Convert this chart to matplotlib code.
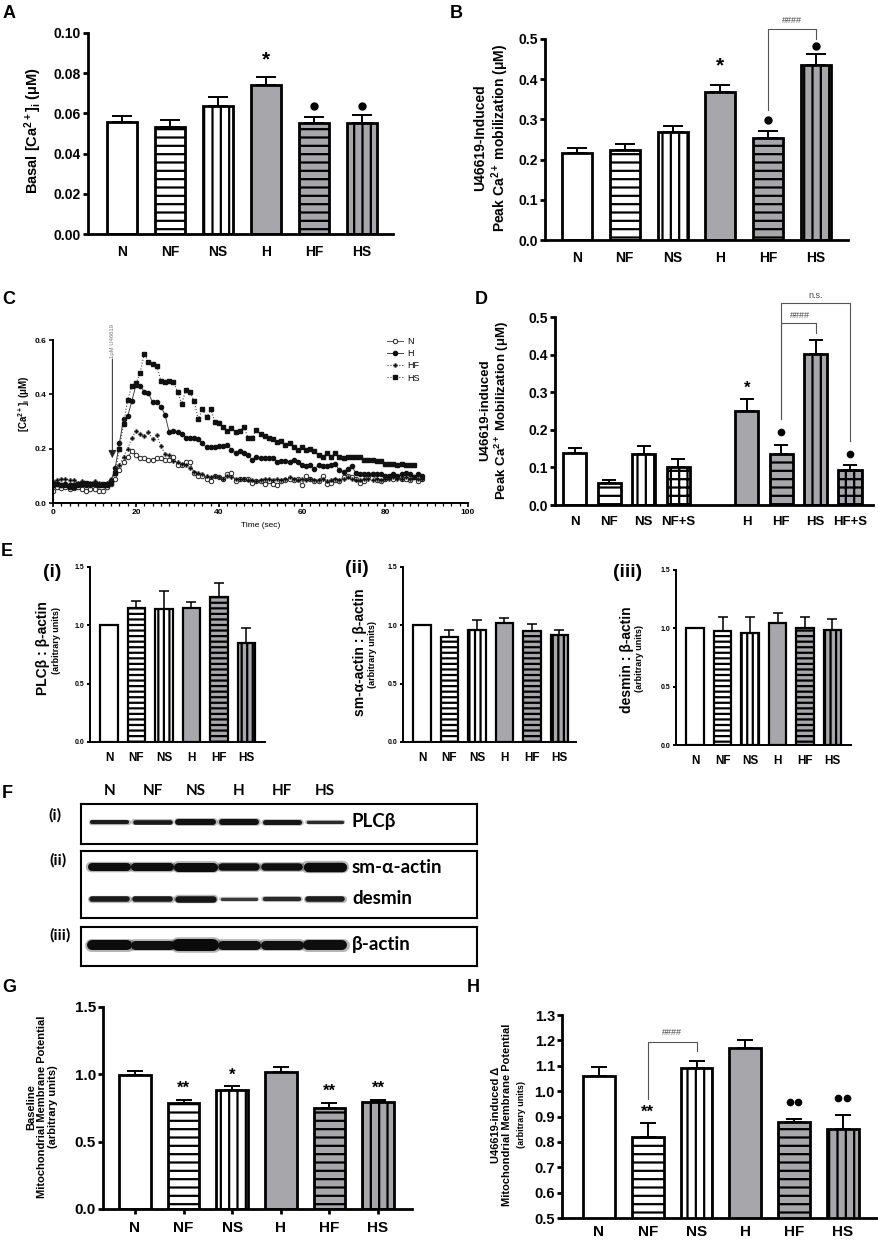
import numpy as np
import matplotlib
matplotlib.use('Agg')
from matplotlib import pyplot as plt
from matplotlib.ticker import MultipleLocator, FormatStrFormatter

W, H = 879, 1241

plt.rcParams['font.family'] = ['Liberation Sans', 'DejaVu Sans']
plt.rcParams['font.weight'] = 'bold'
plt.rcParams['mathtext.fontset'] = 'custom'
plt.rcParams['mathtext.rm'] = 'Liberation Sans:bold'
plt.rcParams['mathtext.it'] = 'Liberation Sans:bold'
plt.rcParams['mathtext.bf'] = 'Liberation Sans:bold'
plt.rcParams['hatch.linewidth'] = 1.6
plt.rcParams['hatch.color'] = 'black'

GRAY = '#a6a6ab'

# ---------------- data ----------------
GROUPS = ['N', 'NF', 'NS', 'H', 'HF', 'HS']

A_VALS = [0.0557, 0.0531, 0.0638, 0.0743, 0.0552, 0.0554]
A_ERRS = [0.0028, 0.0035, 0.0044, 0.0038, 0.0032, 0.0036]

B_VALS = [0.217, 0.224, 0.268, 0.367, 0.253, 0.435]
B_ERRS = [0.012, 0.015, 0.016, 0.019, 0.017, 0.027]

D_GROUPS = ['N', 'NF', 'NS', 'NF+S', 'H', 'HF', 'HS', 'HF+S']
D_POS = [0, 1, 2, 3, 5, 6, 7, 8]
D_VALS = [0.138, 0.059, 0.136, 0.102, 0.251, 0.136, 0.402, 0.092]
D_ERRS = [0.013, 0.007, 0.022, 0.021, 0.031, 0.024, 0.038, 0.014]

E1_VALS = [1.0, 1.146, 1.14, 1.151, 1.243, 0.851]
E1_ERRS = [0, 0.065, 0.157, 0.049, 0.12, 0.123]
E2_VALS = [1.0, 0.899, 0.962, 1.023, 0.948, 0.916]
E2_ERRS = [0, 0.063, 0.087, 0.041, 0.064, 0.044]
E3_VALS = [1.0, 0.977, 0.96, 1.045, 1.006, 0.983]
E3_ERRS = [0, 0.117, 0.134, 0.085, 0.088, 0.097]

G_VALS = [0.998, 0.787, 0.886, 1.017, 0.752, 0.792]
G_ERRS = [0.024, 0.024, 0.025, 0.035, 0.032, 0.019]

H_VALS = [1.06, 0.821, 1.09, 1.171, 0.879, 0.85]
H_ERRS = [0.037, 0.053, 0.03, 0.029, 0.012, 0.054]

# time course (panel C), one reading per second
C_TIME = np.arange(90)
C_N = [0.045, 0.060, 0.055, 0.060, 0.050, 0.055, 0.060, 0.050, 0.045, 0.050,
       0.050, 0.045, 0.045, 0.060, 0.070, 0.090, 0.120, 0.150, 0.170, 0.190,
       0.175, 0.165, 0.165, 0.160, 0.160, 0.165, 0.165, 0.160, 0.160, 0.170,
       0.140, 0.140, 0.150, 0.150, 0.110, 0.100, 0.100, 0.090, 0.080, 0.100,
       0.095, 0.090, 0.105, 0.110, 0.080, 0.090, 0.090, 0.090, 0.075, 0.080,
       0.080, 0.070, 0.080, 0.070, 0.065, 0.080, 0.085, 0.090, 0.085, 0.090,
       0.065, 0.100, 0.090, 0.080, 0.080, 0.100, 0.070, 0.075, 0.085, 0.080,
       0.095, 0.100, 0.095, 0.090, 0.075, 0.080, 0.100, 0.105, 0.085, 0.080,
       0.090, 0.095, 0.090, 0.095, 0.090, 0.090, 0.085, 0.095, 0.080, 0.090]
C_H = [0.065, 0.070, 0.065, 0.070, 0.065, 0.060, 0.065, 0.070, 0.065, 0.065,
       0.070, 0.065, 0.065, 0.070, 0.080, 0.130, 0.220, 0.310, 0.320, 0.375,
       0.435, 0.430, 0.410, 0.405, 0.370, 0.370, 0.355, 0.325, 0.260, 0.265,
       0.260, 0.255, 0.240, 0.240, 0.240, 0.235, 0.220, 0.205, 0.205, 0.205,
       0.210, 0.210, 0.215, 0.195, 0.185, 0.190, 0.185, 0.175, 0.160, 0.170,
       0.165, 0.165, 0.165, 0.165, 0.150, 0.155, 0.155, 0.150, 0.160, 0.150,
       0.140, 0.135, 0.140, 0.125, 0.140, 0.135, 0.135, 0.140, 0.145, 0.120,
       0.115, 0.125, 0.135, 0.110, 0.105, 0.105, 0.105, 0.105, 0.105, 0.105,
       0.100, 0.100, 0.105, 0.100, 0.105, 0.110, 0.105, 0.095, 0.105, 0.100]
C_HF = [0.080, 0.085, 0.090, 0.090, 0.085, 0.085, 0.075, 0.080, 0.075, 0.075,
        0.080, 0.075, 0.070, 0.075, 0.090, 0.110, 0.140, 0.170, 0.200, 0.240,
        0.265, 0.255, 0.245, 0.260, 0.235, 0.250, 0.210, 0.180, 0.175, 0.155,
        0.150, 0.145, 0.140, 0.130, 0.115, 0.110, 0.105, 0.100, 0.095, 0.100,
        0.095, 0.090, 0.100, 0.095, 0.090, 0.090, 0.090, 0.085, 0.085, 0.080,
        0.085, 0.090, 0.090, 0.085, 0.090, 0.085, 0.090, 0.095, 0.090, 0.085,
        0.090, 0.085, 0.090, 0.085, 0.085, 0.090, 0.080, 0.085, 0.090, 0.085,
        0.090, 0.095, 0.090, 0.085, 0.085, 0.090, 0.090, 0.085, 0.090, 0.085,
        0.090, 0.090, 0.095, 0.090, 0.090, 0.095, 0.090, 0.095, 0.090, 0.090]
C_HS = [0.070, 0.070, 0.065, 0.065, 0.060, 0.065, 0.070, 0.070, 0.075, 0.070,
        0.070, 0.065, 0.070, 0.065, 0.075, 0.110, 0.200, 0.290, 0.380, 0.430,
        0.440, 0.480, 0.550, 0.520, 0.510, 0.505, 0.450, 0.445, 0.450, 0.445,
        0.410, 0.365, 0.415, 0.410, 0.375, 0.310, 0.345, 0.315, 0.345, 0.300,
        0.295, 0.280, 0.265, 0.275, 0.260, 0.265, 0.280, 0.240, 0.240, 0.270,
        0.255, 0.245, 0.240, 0.235, 0.225, 0.230, 0.215, 0.220, 0.205, 0.195,
        0.205, 0.195, 0.200, 0.190, 0.175, 0.170, 0.185, 0.170, 0.185, 0.170,
        0.165, 0.170, 0.170, 0.170, 0.170, 0.160, 0.160, 0.160, 0.155, 0.155,
        0.145, 0.145, 0.145, 0.140, 0.145, 0.140, 0.140, 0.140]

# western blot (panel F): band thickness (pt) and darkness per lane
BLOT_LANES = ['N', 'NF', 'NS', 'H', 'HF', 'HS']
BAND_PLCB = [3.0, 3.3, 4.3, 4.3, 3.6, 2.4]
BAND_SMA = [5.8, 5.8, 6.5, 5.4, 5.4, 6.8]
BAND_DESMIN = [4.0, 4.0, 4.7, 2.4, 3.1, 4.0]
BAND_BACTIN = [7.2, 6.5, 8.6, 6.5, 6.5, 7.2]
SHADE_PLCB = ['#1c1c1c', '#1a1a1a', '#111111', '#111111', '#161616', '#2a2a2a']
SHADE_SMA = ['#0e0e0e', '#0e0e0e', '#0c0c0c', '#101010', '#101010', '#0c0c0c']
SHADE_DESMIN = ['#1a1a1a', '#1a1a1a', '#151515', '#3a3a3a', '#2a2a2a', '#1d1d1d']
SHADE_BACTIN = ['#0c0c0c', '#101010', '#0a0a0a', '#101010', '#101010', '#0e0e0e']

BAR_STYLE = {'N': ('white', ''), 'NF': ('white', '-'), 'NS': ('white', '|'),
             'H': (GRAY, ''), 'HF': (GRAY, '-'), 'HS': (GRAY, '|'),
             'NF+S': ('white', '+'), 'HF+S': (GRAY, '+')}

fig = plt.figure(figsize=(W / 100, H / 100), dpi=100)
fig.patch.set_facecolor('white')


def add_box(l, t, r, b):
  return fig.add_axes([l / W, 1 - b / H, (r - l) / W, (b - t) / H])


def ftext(x, y, s, **kw):
  kw.setdefault('ha', 'center')
  kw.setdefault('va', 'center')
  fig.text(x / W, 1 - y / H, s, **kw)


def bar_panel(ax, pos, groups, vals, errs, width, lw, capsize, rep=2):
  for p, g, v in zip(pos, groups, vals):
    fc, h = BAR_STYLE[g]
    ax.bar(p, v, width, color=fc, edgecolor='black', hatch=h * rep,
           linewidth=lw, zorder=2)
  ep = [p for p, e in zip(pos, errs) if e > 0]
  ev = [v for v, e in zip(vals, errs) if e > 0]
  ee = [e for e in errs if e > 0]
  ax.errorbar(ep, ev, yerr=[np.zeros(len(ee)), ee], fmt='none', ecolor='black',
              elinewidth=lw * 0.7, capsize=capsize, capthick=lw * 0.7, zorder=1)
  ax.set_xticks(pos)
  ax.set_xticklabels(groups)


def style_ax(ax, lw, ysize, xsize, ylen, xpad, xlen=0):
  ax.spines[['top', 'right']].set_visible(False)
  ax.spines[['left', 'bottom']].set_linewidth(lw)
  ax.tick_params(axis='y', width=lw, length=ylen, labelsize=ysize, pad=1.5)
  ax.tick_params(axis='x', width=lw, length=xlen, labelsize=xsize, pad=xpad)


def bracket(ax, xs, ys, label, ly, lx, size=6.5):
  ax.plot(xs, ys, color='#555555', lw=0.8, clip_on=False)
  ax.text(lx, ly, label, ha='center', va='center', fontsize=size,
          fontweight='normal', color='#444444', clip_on=False)


# ---------------- A ----------------
ax = add_box(88, 33, 393, 234)
bar_panel(ax, range(6), GROUPS, A_VALS, A_ERRS, 0.625, 2.0, 7)
ax.set_xlim(-0.708, 5.646)
ax.set_ylim(0, 0.10)
ax.set_yticks(np.arange(0, 0.101, 0.02))
ax.yaxis.set_major_formatter(FormatStrFormatter('%.2f'))
style_ax(ax, 2.0, 10, 10, 3.6, 8)
ax.text(3, 0.0867, '*', ha='center', va='center', fontsize=15)
ax.plot([4, 5], [0.0635, 0.0638], 'o', color='black', ms=5, clip_on=False)
ftext(33, 131, 'Basal [Ca$^{2+}$]$_\\mathrm{i}$ (μM)', rotation=90, fontsize=10.5)

# ---------------- B ----------------
ax = add_box(545, 39, 848, 240)
bar_panel(ax, range(6), GROUPS, B_VALS, B_ERRS, 0.63, 2.0, 7)
ax.set_xlim(-0.669, 5.669)
ax.set_ylim(0, 0.5)
ax.set_yticks(np.arange(0, 0.51, 0.1))
ax.yaxis.set_major_formatter(FormatStrFormatter('%.1f'))
style_ax(ax, 2.0, 10, 10, 3.6, 8)
ax.text(3, 0.433, '*', ha='center', va='center', fontsize=15)
ax.plot([4, 5], [0.298, 0.483], 'o', color='black', ms=5, clip_on=False)
bracket(ax, [4, 4, 5, 5], [0.323, 0.525, 0.525, 0.50], '####', 0.545, 4.5)
ftext(492, 138, 'U46619-Induced\nPeak Ca$^{2+}$ mobilization (μM)', rotation=90,
      fontsize=10, linespacing=1.15)

# ---------------- C ----------------
ax = add_box(53, 340, 468, 503)
ax.plot(C_TIME, C_N, '-o', color='#555555', lw=0.7, ms=3.2, mfc='white',
        mec='#222222', mew=0.7, label='N')
ax.plot(C_TIME, C_H, '-o', color='#444444', lw=0.7, ms=3.0, mfc='#111111',
        mec='#111111', label='H')
ax.plot(C_TIME, C_HF, ':', marker='P', color='#444444', lw=0.8, ms=3.0,
        mfc='#111111', mec='#111111', mew=0.2, label='HF')
ax.plot(C_TIME[:len(C_HS)], C_HS, ':', marker='s', color='#444444', lw=0.8,
        ms=3.0, mfc='#111111', mec='#111111', label='HS')
ax.set_xlim(0, 100)
ax.set_ylim(0, 0.6)
ax.set_xticks(range(0, 101, 20))
ax.xaxis.set_minor_locator(MultipleLocator(2))
ax.set_yticks([0, 0.2, 0.4, 0.6])
ax.yaxis.set_major_formatter(FormatStrFormatter('%.1f'))
ax.spines[['top', 'right']].set_visible(False)
ax.spines[['left', 'bottom']].set_linewidth(1.4)
ax.tick_params(axis='both', which='major', width=1.2, length=3, labelsize=6, pad=1.5)
ax.tick_params(axis='x', which='minor', width=0.9, length=2)
ax.set_xlabel('Time (sec)', fontsize=6, labelpad=4)
ax.annotate('', xy=(14.3, 0.165), xytext=(14.3, 0.53),
            arrowprops=dict(arrowstyle='-|>', color='#222222', lw=0.7,
                            mutation_scale=12, shrinkA=0, shrinkB=0))
ax.text(14.3, 0.595, '1μM U46619', rotation=90, ha='center', va='center',
        fontsize=4.2, fontweight='normal', color='#777777', clip_on=False)
ax.legend(loc='upper left', bbox_to_anchor=(0.795, 1.04), frameon=False,
          prop={'size': 6.5, 'weight': 'normal'}, handlelength=1.8,
          handletextpad=0.5, labelspacing=0.35, borderaxespad=0)
ftext(24, 404, '[Ca$^{2+}$]$_\\mathrm{i}$ (μM)', rotation=90, fontsize=7)

# ---------------- D ----------------
ax = add_box(555, 317, 873, 505)
bar_panel(ax, D_POS, D_GROUPS, D_VALS, D_ERRS, 0.67, 2.0, 5)
ax.set_xlim(-0.581, 8.669)
ax.set_ylim(0, 0.5)
ax.set_yticks(np.arange(0, 0.51, 0.1))
ax.yaxis.set_major_formatter(FormatStrFormatter('%.1f'))
style_ax(ax, 2.0, 10, 9.5, 3.6, 8)
ax.text(5, 0.311, '*', ha='center', va='center', fontsize=12)
ax.plot([6, 8], [0.194, 0.136], 'o', color='black', ms=4.5, clip_on=False)
bracket(ax, [6, 6, 7, 7], [0.229, 0.484, 0.484, 0.458], '####', 0.503, 6.54)
bracket(ax, [6, 6, 8, 8], [0.229, 0.538, 0.538, 0.17], 'n.s.', 0.558, 7.0)
ftext(495, 410, 'U46619-induced\nPeak Ca$^{2+}$ Mobilization (μM)', rotation=90,
      fontsize=9.5, linespacing=1.15)

# ---------------- E ----------------
E_SPECS = [
  (90, 567, 265, 742, E1_VALS, E1_ERRS, 109),
  (403, 567, 576, 742, E2_VALS, E2_ERRS, 422),
  (676, 570, 851, 745, E3_VALS, E3_ERRS, 695),
]
for l, t, r, b, vals, errs, n_px in E_SPECS:
  ax = add_box(l, t, r, b)
  bar_panel(ax, range(6), GROUPS, vals, errs, 0.62, 1.6, 3.5, rep=3)
  unit = 27.5
  ax.set_xlim(-(n_px - l) / unit, (r - n_px) / unit)
  ax.set_ylim(0, 1.5)
  ax.set_yticks([0, 0.5, 1.0, 1.5])
  ax.yaxis.set_major_formatter(FormatStrFormatter('%.1f'))
  style_ax(ax, 1.4, 5, 8.5, 2.5, 7)

ftext(43, 648, 'PLCβ : β-actin', rotation=90, fontsize=10)
ftext(57, 641, '(arbitrary units)', rotation=90, fontsize=6.5)
ftext(360, 652, 'sm-α-actin : β-actin', rotation=90, fontsize=10)
ftext(373, 654, '(arbitrary units)', rotation=90, fontsize=6.5)
ftext(627, 660, 'desmin : β-actin', rotation=90, fontsize=10)
ftext(640, 659, '(arbitrary units)', rotation=90, fontsize=6.5)
ftext(52, 572, '(i)', fontsize=14)
ftext(357, 568, '(ii)', fontsize=14)
ftext(628, 572, '(iii)', fontsize=14)

# ---------------- F (blot) ----------------
BLOT_FONT = ['Lato', 'DejaVu Sans']


def blot_box(t, b):
  ax = add_box(81, t, 477, b)
  ax.set_xlim(-0.66, 8.52)
  ax.set_ylim(0, 1)
  ax.set_xticks([])
  ax.set_yticks([])
  for s in ax.spines.values():
    s.set_linewidth(1.5)
  return ax


def draw_band(ax, y, widths, shades, label):
  for i, (w, c) in enumerate(zip(widths, shades)):
    ax.plot([i - 0.42, i + 0.42], [y, y], color=c, lw=w * 1.3, alpha=0.3,
            solid_capstyle='round')
    ax.plot([i - 0.4, i + 0.4], [y, y], color=c, lw=w, solid_capstyle='round')
  ax.text(5.62, y, label, ha='left', va='center', fontsize=13.5,
          family=BLOT_FONT, fontweight='bold')


bx = blot_box(804, 844)
draw_band(bx, 0.55, BAND_PLCB, SHADE_PLCB, 'PLCβ')
for i, lane in enumerate(BLOT_LANES):
  bx.text(i, 1.33, lane, ha='center', va='center', fontsize=11,
          family=BLOT_FONT, fontweight='bold', clip_on=False)
bx = blot_box(851, 918)
draw_band(bx, 0.76, BAND_SMA, SHADE_SMA, 'sm-α-actin')
draw_band(bx, 0.29, BAND_DESMIN, SHADE_DESMIN, 'desmin')
bx = blot_box(927, 966)
draw_band(bx, 0.54, BAND_BACTIN, SHADE_BACTIN, 'β-actin')
ftext(55, 815, '(i)', fontsize=11.5, family=BLOT_FONT)
ftext(58, 860, '(ii)', fontsize=11.5, family=BLOT_FONT)
ftext(60, 935, '(iii)', fontsize=11.5, family=BLOT_FONT)

# ---------------- G ----------------
ax = add_box(103, 1007, 412, 1209)
bar_panel(ax, range(6), GROUPS, G_VALS, G_ERRS, 0.65, 2.0, 6)
ax.set_xlim(-0.658, 5.70)
ax.set_ylim(0, 1.5)
ax.set_yticks([0, 0.5, 1.0, 1.5])
ax.yaxis.set_major_formatter(FormatStrFormatter('%.1f'))
style_ax(ax, 2.0, 11, 11, 3.6, 5.5, xlen=3.5)
for x, y, s in [(1, 0.898, '**'), (2, 0.99, '*'), (4, 0.873, '**'), (5, 0.898, '**')]:
  ax.text(x, y, s, ha='center', va='center', fontsize=12)
ftext(42, 1107, 'Baseline\nMitochondrial Membrane Potential\n(arbitrary units)',
      rotation=90, fontsize=8, linespacing=1.15)

# ---------------- H ----------------
ax = add_box(562, 1015, 877, 1218)
bar_panel(ax, range(6), GROUPS, H_VALS, H_ERRS, 0.65, 2.0, 6)
ax.set_xlim(-0.758, 5.70)
ax.set_ylim(0.5, 1.3)
ax.set_yticks(np.arange(0.5, 1.31, 0.1))
ax.yaxis.set_major_formatter(FormatStrFormatter('%.1f'))
style_ax(ax, 2.0, 10.5, 11, 3.6, 5)
ax.text(1, 0.917, '**', ha='center', va='center', fontsize=12)
ax.plot([3.91, 4.09, 4.91, 5.09], [0.959, 0.959, 0.972, 0.972], 'o',
        color='black', ms=4.5, clip_on=False)
bracket(ax, [1, 1, 2, 2], [0.968, 1.195, 1.195, 1.158], '####', 1.232, 1.5)
ftext(501.5, 1115, 'U46619-induced Δ\nMitochondrial Membrane Potential',
      rotation=90, fontsize=8, linespacing=1.15)
ftext(522, 1115, '(arbitrary units)', rotation=90, fontsize=6.5)

# ---------------- panel letters ----------------
for x, y, s in [(3, 14, 'A'), (450, 13, 'B'), (2, 299, 'C'), (475, 299, 'D'),
                (1, 552, 'E'), (2, 793, 'F'), (2, 988, 'G'), (467, 988, 'H')]:
  ftext(x, y, s, ha='left', fontsize=13)

fig.savefig('out.png', dpi=100, facecolor='white')
